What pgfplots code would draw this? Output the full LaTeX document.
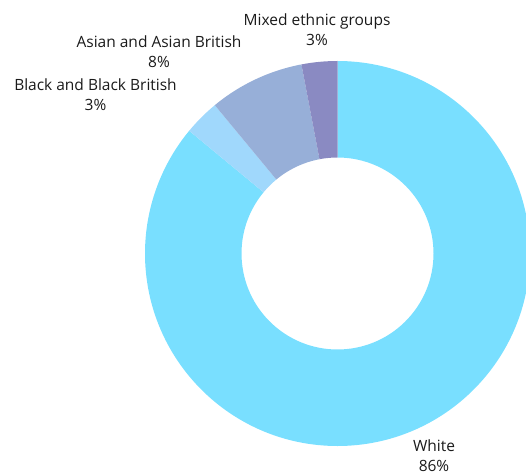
\documentclass[border=0pt]{standalone}
\usepackage{pgfplots}
\usepackage{pgfplotstable}
\usepackage{fontspec}
\setmainfont{Open Sans}
\pgfplotsset{compat=1.18}
\definecolor{cWhite}{HTML}{79DFFF}
\definecolor{cBlack}{HTML}{A0D8FC}
\definecolor{cAsian}{HTML}{97AFD8}
\definecolor{cMixed}{HTML}{8A8AC2}
\definecolor{txt}{HTML}{1A1A1A}
\pgfplotstableread{
value color
86 cWhite
3 cBlack
8 cAsian
3 cMixed
}\piedata
\begin{document}
\begin{tikzpicture}
\begin{axis}[x=1pt,y=1pt,xmin=0,xmax=526,ymin=0,ymax=474,
  hide axis,scale only axis,clip=true]
\coordinate (BL) at (axis cs:0,0);
\coordinate (TR) at (axis cs:526,474);
\gdef\cum{0}
\pgfplotsinvokeforeach{0,...,3}{
  \pgfplotstablegetelem{#1}{value}\of\piedata
  \pgfmathsetmacro\aS{90-3.6*\cum}
  \pgfmathsetmacro\newcum{\cum+\pgfplotsretval}
  \pgfmathsetmacro\aE{90-3.6*\newcum}
  \pgfmathsetmacro\aEb{\aE+180}
  \xdef\cum{\newcum}
  \pgfplotstablegetelem{#1}{color}\of\piedata
  \edef\temp{\noexpand\fill[\pgfplotsretval] (axis cs:337.5,220.5) ++(\aS:192.5pt)
    arc[start angle=\aS, end angle=\aE, radius=192.5pt] -- ++(\aEb:96.5pt)
    arc[start angle=\aE, end angle=\aS, radius=96pt] -- cycle;}
  \temp
}
\begin{scope}[every node/.style={align=center,text=txt,inner sep=0pt,font=\fontsize{15.5pt}{20pt}\selectfont}]
\node at (axis cs:317,444) {Mixed ethnic groups\\3\%};
\node at (axis cs:159,422) {Asian and Asian British\\8\%};
\node at (axis cs:95.5,379) {Black and Black British\\3\%};
\node at (axis cs:434,18) {White\\86\%};
\end{scope}
\end{axis}
\pgfresetboundingbox
\path[use as bounding box] (BL) rectangle (TR);
\end{tikzpicture}
\end{document}
